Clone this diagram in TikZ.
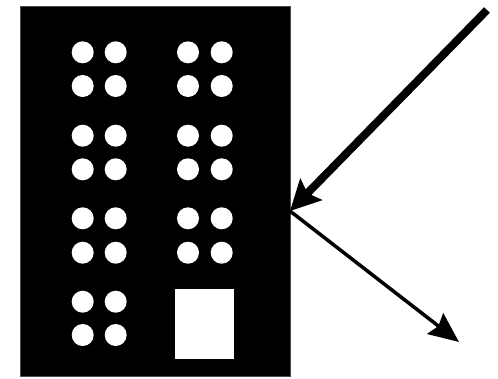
\documentclass[tikz,border=0pt]{standalone}
\usetikzlibrary{arrows.meta}
\begin{document}
\begin{tikzpicture}[x=1pt,y=-1pt,
  building/.style={fill=black,draw=black!70,line width=0.6pt,minimum width=270pt,minimum height=370pt,inner sep=0pt,anchor=north west},
  win/.style={circle,fill=white,minimum size=22pt,inner sep=0pt},
  door/.style={fill=white,minimum width=59pt,minimum height=70pt,inner sep=0pt,anchor=north west},
  inray/.style={line width=8pt,-{Stealth[length=30pt,width=30pt,inset=5pt]}},
  outray/.style={line width=3.5pt,-{Stealth[length=30pt,width=26pt,inset=4pt]}}]
\useasboundingbox (0,0) rectangle (498,378);
\node[building] (b) at (20,6) {};
\foreach \x [count=\i] in {82.7,115.7,188,221.7}{
  \foreach \y [count=\j] in {52.3,86,135.7,169.3,218.3,252.7}{
    \node[win] (w\i\j) at (\x,\y) {};
  }
}
\foreach \x [count=\i] in {82.7,115.7}{
  \foreach \y [count=\j] in {301.7,335}{
    \node[win] (v\i\j) at (\x,\y) {};
  }
}
\node[door] (d) at (175,289) {};
\coordinate (src) at (487,10);
\coordinate (hit) at (290,211);
\coordinate (dst) at (459,342);
\draw[inray] (src) -- (hit);
\draw[outray] (hit) -- (dst);
\end{tikzpicture}
\end{document}
